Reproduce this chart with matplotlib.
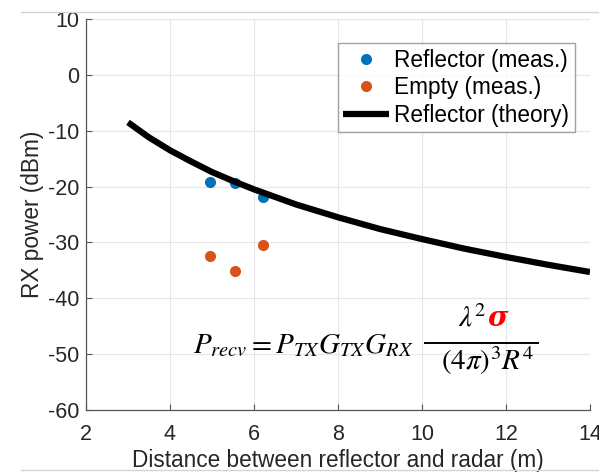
import matplotlib
matplotlib.use('Agg')
import matplotlib.pyplot as plt
from matplotlib.lines import Line2D

# measured points (distance in m, power in dBm)
refl_dist = [4.95, 5.55, 6.21]
refl_pow = [-19.2, -19.4, -21.9]
empty_dist = [4.95, 5.55, 6.21]
empty_pow = [-32.4, -35.1, -30.5]

# theory curve
theory_dist = [3.0, 3.5, 4.0, 4.5, 5.0, 5.5, 6.0, 7.0, 8.0, 9.0, 10.0, 11.0, 12.0, 13.0, 14.0]
theory_pow = [-8.5, -11.2, -13.5, -15.5, -17.4, -19.0, -20.5, -23.2, -25.5, -27.6,
              -29.4, -31.1, -32.6, -34.0, -35.3]

xticks = [2, 4, 6, 8, 10, 12, 14]
yticks = [-60, -50, -40, -30, -20, -10, 0, 10]

plt.rcParams['font.family'] = ['Liberation Sans', 'DejaVu Sans']
plt.rcParams['mathtext.fontset'] = 'stix'
plt.rcParams['axes.unicode_minus'] = False

fig = plt.figure(figsize=(5.99, 4.72), dpi=100)
ax = fig.add_axes([86/599, 62/472, 504/599, 391/472])

blue = '#0072BD'
orange = '#D95319'
ax.plot(refl_dist, refl_pow, 'o', color=blue, ms=8, mec='none', label='Reflector (meas.)')
ax.plot(empty_dist, empty_pow, 'o', color=orange, ms=8, mec='none', label='Empty (meas.)')
ax.plot(theory_dist, theory_pow, '-', color='black', lw=4.5, label='Reflector (theory)',
        solid_capstyle='butt')

ax.set_xlim(2, 14)
ax.set_ylim(-60, 10)
ax.set_xticks(xticks)
ax.set_yticks(yticks)
ax.grid(True, color='#e6e6e6', lw=0.8)
ax.set_axisbelow(True)
for s in ['top', 'right']:
    ax.spines[s].set_visible(False)
for s in ['left', 'bottom']:
    ax.spines[s].set_color('#555555')
    ax.spines[s].set_linewidth(0.9)
ax.tick_params(direction='in', length=4, width=0.8, color='#555555',
               labelsize=15.5, labelcolor='#262626')
ax.tick_params(axis='x', pad=10)
ax.tick_params(axis='y', pad=5)
ax.set_xlabel('Distance between reflector and radar (m)', fontsize=16.3, color='#262626', labelpad=3)
ax.set_ylabel('RX power (dBm)', fontsize=16.3, color='#262626', labelpad=3)

leg = ax.legend(loc='upper right', bbox_to_anchor=(0.970, 0.939), fontsize=16.3,
                frameon=True, fancybox=False, handlelength=2.0, handletextpad=0.25,
                labelspacing=0.2, borderpad=0.25, borderaxespad=0)
leg.get_frame().set_edgecolor('#8c8c8c')
leg.get_frame().set_linewidth(1.0)

# radar equation
ax.text(4.55, -49.8, r'$P_{recv} = P_{TX}G_{TX}G_{RX}$', fontsize=21, ha='left', va='baseline')
ax.plot([10.07, 12.76], [-48.0, -48.0], color='black', lw=1.4)
ax.text(11.55, -45.0, r'$\lambda^2$', fontsize=21, ha='right', va='baseline')
ax.text(11.57, -45.0, 'σ', fontsize=20, ha='left', va='baseline', color='red',
        family=['DejaVu Serif'], fontweight='bold', style='italic')
ax.text(11.57, -52.8, r'$(4\pi)^3R^4$', fontsize=21, ha='center', va='baseline')

# faint screenshot borders
fig.add_artist(Line2D([21/599, 1], [1 - 12/472, 1 - 12/472], color='#d4d4d4', lw=1))
fig.add_artist(Line2D([21/599, 1], [1 - 470/472, 1 - 470/472], color='#d4d4d4', lw=1))

fig.savefig('out.png', dpi=100)
